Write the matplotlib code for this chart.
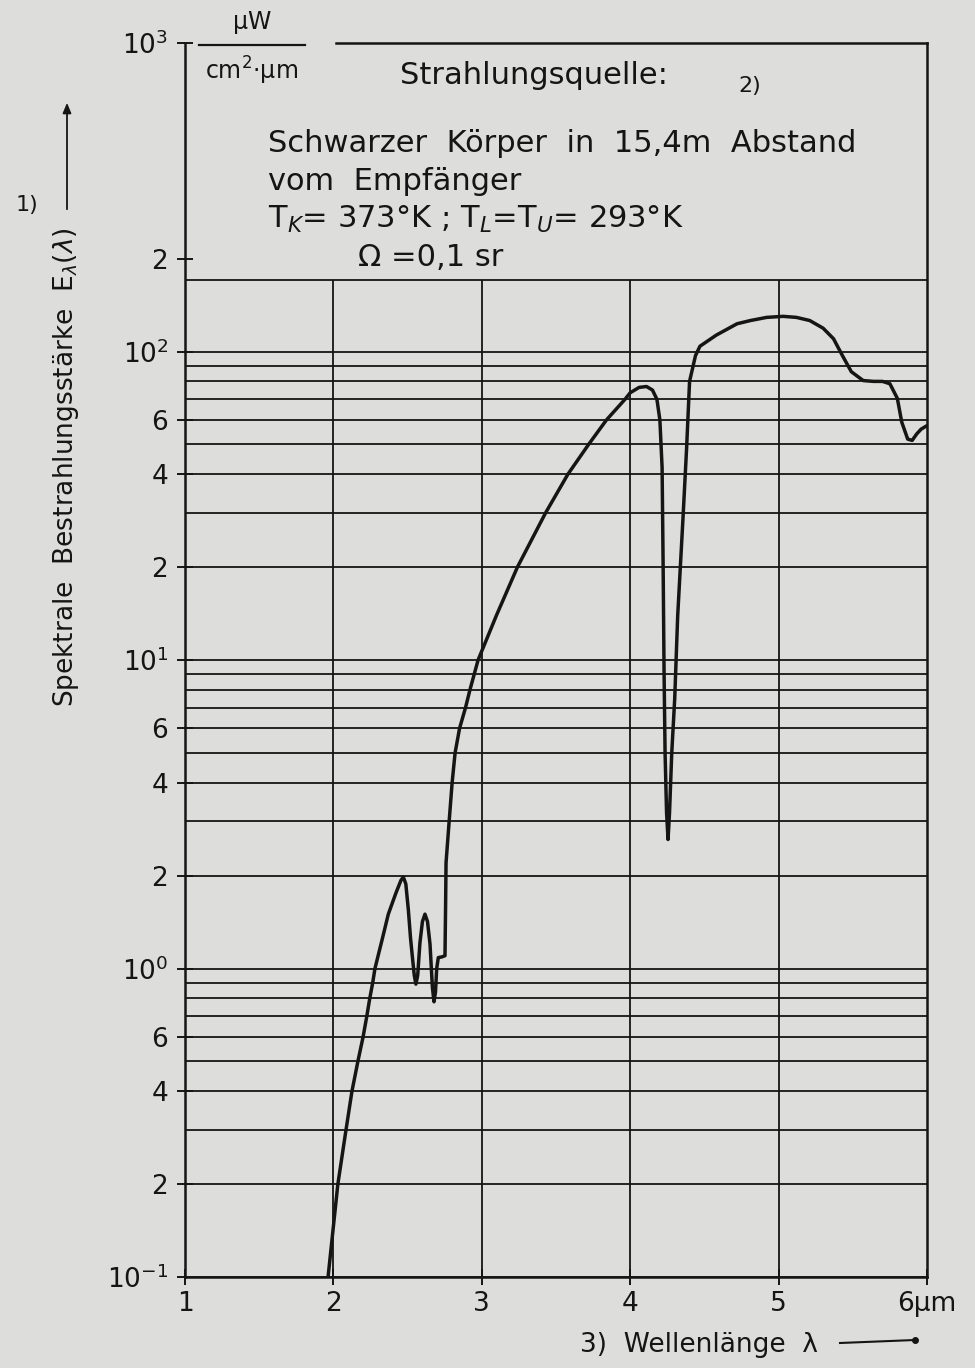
import matplotlib
matplotlib.use("Agg")
import matplotlib.pyplot as plt
import numpy as np

# ---- data ----
wavelength_um = [1.964, 2.03, 2.085, 2.125, 2.165, 2.20, 2.225, 2.245, 2.265, 2.28, 2.33, 2.37,
                 2.42, 2.455, 2.471, 2.488, 2.505, 2.52, 2.534, 2.545, 2.556, 2.568, 2.583,
                 2.60, 2.617, 2.634, 2.651, 2.667, 2.678, 2.688, 2.696, 2.707, 2.73, 2.752,
                 2.756, 2.759, 2.78, 2.80, 2.82, 2.85, 2.89, 2.92, 2.975, 3.10, 3.24, 3.43,
                 3.58, 3.72, 3.84, 3.965, 4.0, 4.06, 4.11, 4.15, 4.18, 4.20, 4.215, 4.222,
                 4.228, 4.235, 4.245, 4.255, 4.265, 4.28, 4.30, 4.32, 4.356, 4.38, 4.40,
                 4.44, 4.47, 4.58, 4.72, 4.81, 4.92, 5.03, 5.12, 5.21, 5.30, 5.37, 5.43,
                 5.49, 5.57, 5.64, 5.70, 5.75, 5.80, 5.83, 5.87, 5.90, 5.93, 5.96, 6.0]
irradiance = [0.1, 0.2, 0.3, 0.4, 0.5, 0.6, 0.7, 0.8, 0.9, 1.0, 1.25, 1.5,
              1.75, 1.93, 1.98, 1.88, 1.55, 1.25, 1.07, 0.95, 0.89, 0.95, 1.21,
              1.42, 1.5, 1.42, 1.2, 0.87, 0.78, 0.84, 1.0, 1.085, 1.09, 1.1,
              1.6, 2.2, 3.0, 4.0, 5.0, 6.0, 7.0, 8.0, 10.0, 14.0, 20.0, 30.0,
              40.0, 50.0, 60.0, 70.0, 73.5, 76.5, 77.0, 75.0, 70.0, 60.0, 42.0, 20.0,
              9.3, 5.0, 3.2, 2.62, 3.2, 5.0, 7.5, 13.9, 29.0, 48.5, 80.0,
              97.0, 104.0, 113.0, 123.0, 126.0, 129.0, 130.0, 129.0, 126.0, 119.0, 110.0, 97.0,
              86.0, 80.5, 80.0, 80.0, 78.6, 70.5, 59.0, 52.0, 51.5, 54.0, 56.0, 57.5]

x_ticks = [1, 2, 3, 4, 5, 6]
x_ticklabels = ["1", "2", "3", "4", "5", "6µm"]
y_ticks = [0.1, 0.2, 0.4, 0.6, 1, 2, 4, 6, 10, 20, 40, 60, 100, 200, 1000]
y_ticklabels = ["$10^{-1}$", "2", "4", "6", "$10^{0}$", "2", "4", "6",
                "$10^{1}$", "2", "4", "6", "$10^{2}$", "2", "$10^{3}$"]
grid_top = 170  # upper edge of the ruled grid

BG = "#dddddb"
INK = "#151515"

plt.rcParams["font.family"] = ["DejaVu Sans"]
plt.rcParams["mathtext.fontset"] = "dejavusans"

fig = plt.figure(figsize=(9.75, 13.68), dpi=100, facecolor=BG)
ax = fig.add_axes([185/975, 1-1277/1368, (927-185)/975, (1277-43)/1368])
ax.set_facecolor(BG)
ax.set_yscale("log")
ax.set_xlim(1, 6)
ax.set_ylim(0.1, 1000)

# ruled grid
hvals = [m * 10.0**k for k in (-1, 0, 1) for m in range(1, 10)] + [100.0, grid_top]
ax.hlines(hvals, 1, 6, colors=INK, linewidth=1.3, zorder=1)
ax.vlines([2, 3, 4, 5], 0.1, grid_top, colors=INK, linewidth=1.3, zorder=1)

ax.plot(wavelength_um, irradiance, color=INK, linewidth=2.5, solid_joinstyle="round",
        solid_capstyle="round", zorder=3)

for s in ("left", "right", "bottom"):
    ax.spines[s].set_linewidth(1.8)
    ax.spines[s].set_color(INK)
ax.spines["top"].set_visible(False)
ax.plot([2.02, 6], [1000, 1000], color=INK, linewidth=1.8, clip_on=False)

ax.set_xticks(x_ticks)
ax.set_xticklabels(x_ticklabels)
ax.set_yticks(y_ticks)
ax.set_yticklabels(y_ticklabels)
ax.yaxis.set_minor_locator(matplotlib.ticker.NullLocator())
ax.tick_params(axis="both", direction="inout", length=12, width=1.4, color=INK,
               labelsize=19, labelcolor=INK)
ax.tick_params(axis="y", pad=6)
ax.tick_params(axis="x", pad=4)

TXT = 22
# unit label
fig.text(252/975, 1-22/1368, "µW", fontsize=17, ha="center", va="center", color=INK)
fig.add_artist(plt.Line2D([199/975, 305/975], [1-45/1368, 1-45/1368], color=INK, linewidth=1.6))
fig.text(252/975, 1-71/1368, "cm$^2$·µm", fontsize=17, ha="center", va="center", color=INK)

# source description
fig.text(400/975, 1-76/1368, "Strahlungsquelle:", fontsize=TXT, ha="left", va="center", color=INK)
fig.text(738/975, 1-86/1368, "2)", fontsize=16, ha="left", va="center", color=INK)
fig.text(268/975, 1-143/1368, "Schwarzer  Körper  in  15,4m  Abstand", fontsize=TXT,
         ha="left", va="center", color=INK)
fig.text(268/975, 1-181/1368, "vom  Empfänger", fontsize=TXT, ha="left", va="center", color=INK)
fig.text(268/975, 1-219/1368, "T$_K$= 373°K ; T$_L$=T$_U$= 293°K", fontsize=TXT,
         ha="left", va="center", color=INK)
fig.text(358/975, 1-257/1368, "Ω =0,1 sr", fontsize=TXT, ha="left", va="center", color=INK)

# y label with arrow
fig.text(66/975, 1-467/1368, "Spektrale  Bestrahlungsstärke  E$_\\lambda$($\\lambda$)",
         rotation=90, fontsize=19, ha="center", va="center", color=INK)
fig.text(27/975, 1-205/1368, "1)", fontsize=16, ha="center", va="center", color=INK)
fig.add_artist(matplotlib.patches.FancyArrowPatch((67/975, 1-212/1368), (67/975, 1-100/1368),
               transform=fig.transFigure, arrowstyle="-|>,head_length=6,head_width=2.5",
               color=INK, linewidth=1.3))

# x label with arrow
fig.text(580/975, 1-1345/1368, "3)  Wellenlänge  λ", fontsize=19, ha="left", va="center", color=INK)
fig.add_artist(plt.Line2D([840/975, 915/975], [1-1343/1368, 1-1340/1368], color=INK, linewidth=1.5))
fig.add_artist(plt.Line2D([915/975], [1-1340/1368], marker="o", markersize=4, color=INK))

fig.savefig("out.png", dpi=100, facecolor=BG)
